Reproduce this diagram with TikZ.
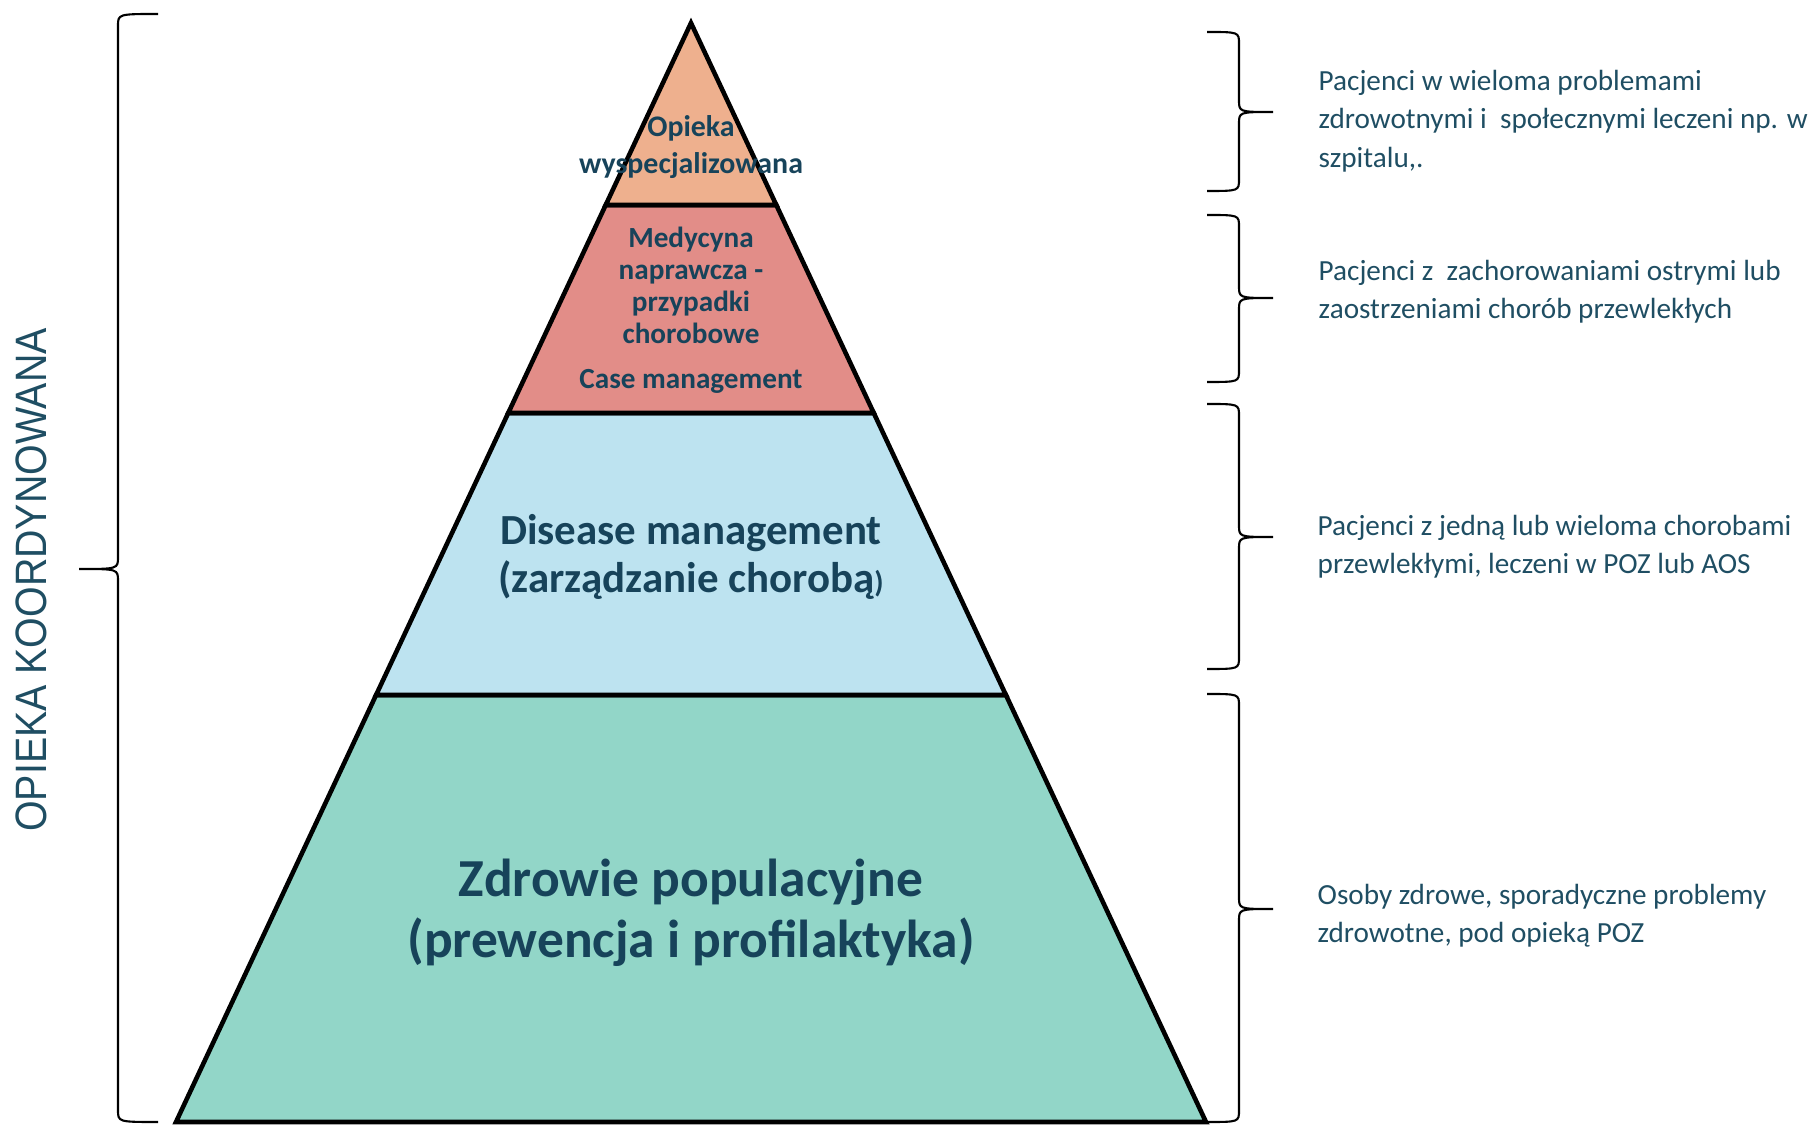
\documentclass[tikz,border=0pt]{standalone}
\usepackage{fontspec}
\setmainfont{Carlito}
\newfontfamily\sidefont{Liberation Sans}
\usepackage{xcolor}
\usepackage{tikz}
\usetikzlibrary{calc}

\definecolor{ink}{HTML}{17435A}
\definecolor{note}{HTML}{1F4E63}
\definecolor{peach}{HTML}{EEB08E}
\definecolor{salmon}{HTML}{E28D88}
\definecolor{sky}{HTML}{BDE3F0}
\definecolor{mint}{HTML}{92D6C8}

\newcommand{\sidebrace}[6]{%
  \draw[brace] (#1,#4) .. controls (#2,#4) .. (#2,#4+12) -- (#2,#5-12)
    .. controls (#2,#5) .. (#3,#5) .. controls (#2,#5) .. (#2,#5+12)
    -- (#2,#6-12) .. controls (#2,#6) .. (#1,#6);}

\begin{document}
\begin{tikzpicture}[x=0.01cm, y=-0.01cm,
      tier/.style={draw=black, line width=1.3pt, line join=miter},
      brace/.style={draw=black, line width=0.6pt},
      lab/.style={align=center, text=ink, font=\bfseries, inner sep=0pt},
      note/.style={align=left, text=note, anchor=west, inner sep=0pt,
                   font=\fontsize{8.3}{10.9}\selectfont}
    ]
      \useasboundingbox (0,0) rectangle (1814,1125);

      \coordinate (apex) at (691,23);
      \coordinate (bl) at (176,1122);
      \coordinate (br) at (1206,1122);
      \coordinate (l1) at ($(apex)!0.1656!(bl)$);
      \coordinate (r1) at ($(apex)!0.1656!(br)$);
      \coordinate (l2) at ($(apex)!0.3549!(bl)$);
      \coordinate (r2) at ($(apex)!0.3549!(br)$);
      \coordinate (l3) at ($(apex)!0.6115!(bl)$);
      \coordinate (r3) at ($(apex)!0.6115!(br)$);

      \draw[tier, fill=mint]   (l3) -- (r3) -- (br) -- (bl) -- cycle;
      \draw[tier, fill=sky]    (l2) -- (r2) -- (r3) -- (l3) -- cycle;
      \draw[tier, fill=salmon] (l1) -- (r1) -- (r2) -- (l2) -- cycle;
      \draw[tier, fill=peach]  (apex) -- (r1) -- (l1) -- cycle;

      \node[lab, font=\bfseries\fontsize{8.5}{10.7}\selectfont] (special) at (691,147)
        {Opieka\\wyspecjalizowana};
      \node[lab, font=\bfseries\fontsize{8.3}{9.1}\selectfont] (repair) at (691,310)
        {Medycyna\\naprawcza -\\przypadki\\chorobowe\\[3.7pt]Case management};
      \node[lab, font=\bfseries\fontsize{12.2}{13.6}\selectfont] (disease) at (691,557)
        {Disease management\\(zarządzanie chorobą{\fontsize{8.5}{8.5}\selectfont)}};
      \node[lab, font=\bfseries\fontsize{15.2}{17.4}\selectfont] (health) at (691,913)
        {Zdrowie populacyjne\\(prewencja i profilaktyka)};

      \sidebrace{1207}{1239}{1273}{32}{112}{191}
      \sidebrace{1207}{1239}{1273}{215}{298}{382}
      \sidebrace{1207}{1239}{1273}{404}{537}{669}
      \sidebrace{1207}{1239}{1273}{694}{909}{1122}
      \sidebrace{158}{118}{79}{14}{569}{1122}

      \node[note] (n1) at (1318,121)
        {Pacjenci w wieloma problemami\\zdrowotnymi i~ społecznymi leczeni np. w\\szpitalu,.};
      \node[note] (n2) at (1318,292)
        {Pacjenci z~ zachorowaniami ostrymi lub\\zaostrzeniami chorób przewlekłych};
      \node[note] (n3) at (1317,547)
        {Pacjenci z jedną lub wieloma chorobami\\przewlekłymi, leczeni w POZ lub AOS};
      \node[note] (n4) at (1317,916)
        {Osoby zdrowe, sporadyczne problemy\\zdrowotne, pod opieką POZ};

      \node[rotate=90, text=note, inner sep=0pt] (coord) at (31,580)
        {\sidefont\fontsize{12.5}{15}\selectfont\scalebox{0.895}[1]{OPIEKA KOORDYNOWANA}};
    \end{tikzpicture}
\end{document}
